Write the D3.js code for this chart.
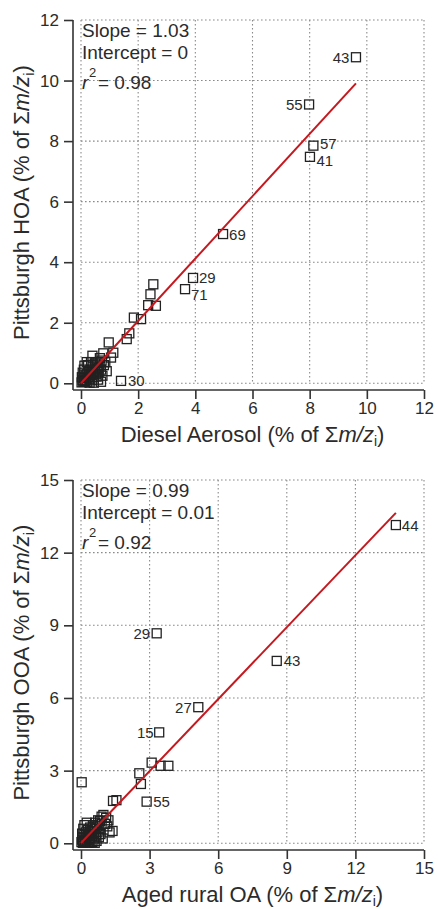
<!DOCTYPE html>
<html><head><meta charset="utf-8">
<script src="https://cdn.jsdelivr.net/npm/d3@7"></script>
<style>
body{margin:0;background:#fff}
svg{display:block}
text{font-family:"Liberation Sans",Arial,sans-serif;fill:#2b2b2b}
</style>
</head><body>
<svg id="c" width="438" height="909"></svg>
<script>
// ---------- Top panel data (Diesel vs HOA) ----------
const hoaTicks = [0, 2, 4, 6, 8, 10, 12];
const dieselX = [2.53,2.43,2.35,2.62,1.85,2.10,1.69,1.60,0.97,1.13,1.05,0.78,0.40,0.66,0.49,0.61,0.55,
  0.02,0.05,0.08,0.10,0.12,0.15,0.18,0.20,0.22,0.25,0.28,0.30,0.33,0.35,0.38,0.40,0.42,0.45,0.48,0.50,
  0.52,0.55,0.58,0.60,0.62,0.65,0.70,0.72,0.75,0.80,0.85,0.90,0.03,0.06,0.10,0.15,0.25,0.35,0.45,0.70,0.30,0.12,0.20];
const hoaY = [3.27,2.94,2.58,2.56,2.17,2.12,1.65,1.46,1.35,1.01,0.85,0.99,0.91,0.83,0.66,0.50,0.22,
  0.03,0.10,0.05,0.18,0.08,0.25,0.12,0.30,0.05,0.20,0.38,0.15,0.45,0.28,0.10,0.55,0.35,0.20,0.42,0.62,
  0.30,0.48,0.70,0.12,0.38,0.58,0.45,0.75,0.25,0.60,0.70,0.40,0.20,0.35,0.45,0.05,0.60,0.70,0.02,0.05,0.02,0.58,0.70];
const hoaLabX = [9.62, 7.98, 8.13, 8.01, 4.97, 3.92, 3.64, 1.40];
const hoaLabY = [10.77, 9.21, 7.85, 7.48, 4.93, 3.48, 3.11, 0.08];
const hoaLabText = ["43", "55", "57", "41", "69", "29", "71", "30"];
const hoaFit = {slope: 1.03, intercept: 0, xmax: 9.62};
const hoaStats = ["Slope = 1.03", "Intercept = 0", "0.98"];

// ---------- Bottom panel data (Aged rural OA vs OOA) ----------
const ooaTicks = [0, 3, 6, 9, 12, 15];
const ruralX = [3.09,3.48,3.82,2.55,2.62,0.03,1.40,1.55,1.38,0.98,0.83,1.05,0.54,1.10,1.20,1.15,0.90,1.25,
  0.02,0.05,0.08,0.10,0.12,0.15,0.18,0.20,0.22,0.25,0.28,0.30,0.33,0.35,0.38,0.40,0.42,0.45,0.48,0.50,
  0.52,0.55,0.58,0.60,0.62,0.65,0.68,0.70,0.72,0.75,0.78,0.80,0.85,0.90,0.95,0.05,0.10,0.15,0.25,0.35,0.60];
const ooaY = [3.33,3.20,3.20,2.89,2.45,2.52,1.75,1.78,0.51,1.17,0.92,0.80,0.69,1.05,0.95,0.70,1.10,0.45,
  0.05,0.15,0.02,0.25,0.10,0.35,0.05,0.20,0.45,0.12,0.30,0.55,0.08,0.40,0.22,0.65,0.15,0.50,0.30,0.05,
  0.75,0.40,0.20,0.60,0.85,0.32,0.10,0.70,0.48,0.95,0.25,0.60,0.38,0.80,0.20,0.40,0.60,0.75,0.85,0.02,0.02];
const ooaLabX = [13.77, 3.31, 8.56, 5.13, 3.42, 2.87];
const ooaLabY = [13.14, 8.67, 7.53, 5.62, 4.58, 1.72];
const ooaLabText = ["44", "29", "43", "27", "15", "55"];
const ooaFit = {slope: 0.99, intercept: 0.01, xmax: 13.77};
const ooaStats = ["Slope = 0.99", "Intercept = 0.01", "0.92"];

// label placement: [dx, dy, anchor]
const hoaLabPos = [[-6.5,5.5,"end"],[-6.5,5.5,"end"],[6.5,3,"start"],[6.5,9,"start"],[6,5.5,"start"],[6,5.5,"start"],[6,11,"start"],[7,5.5,"start"]];
const ooaLabPos = [[6,5.5,"start"],[-6.5,5.5,"end"],[7,5.5,"start"],[-6.5,5.5,"end"],[-5.5,5.5,"end"],[6.5,5.5,"start"]];

const svg = d3.select("#c");

function panel(o) {
  const x = d3.scaleLinear().domain([0, o.max]).range([81, 424]);
  const y = d3.scaleLinear().domain([0, o.max]).range([o.y0, o.y0 - 363.3]);
  const g = svg.append("g");
  const axY = o.y0 + 6.7, axX = 73;
  // grid
  g.append("g").selectAll("line.v").data(o.ticks).join("line")
    .attr("x1", d => x(d)).attr("x2", d => x(d)).attr("y1", y(o.max)).attr("y2", y(0))
    .attr("stroke", "#8a8a8a").attr("stroke-width", 1.1).attr("stroke-dasharray", "1.6,2.4");
  g.append("g").selectAll("line.h").data(o.ticks).join("line")
    .attr("y1", d => y(d)).attr("y2", d => y(d)).attr("x1", x(0)).attr("x2", x(o.max))
    .attr("stroke", "#8a8a8a").attr("stroke-width", 1.1).attr("stroke-dasharray", "1.6,2.4");
  // axes
  const xa = d3.axisBottom(x).tickValues(o.ticks).tickSize(9).tickPadding(3).tickFormat(d3.format("d"));
  const ya = d3.axisLeft(y).tickValues(o.ticks).tickSize(9).tickPadding(5).tickFormat(d3.format("d"));
  const gx = g.append("g").attr("transform", `translate(0,${axY})`).call(xa);
  const gy = g.append("g").attr("transform", `translate(${axX},0)`).call(ya);
  gx.select(".domain").attr("d", `M${axX},0H${x(o.max)}`);
  gy.select(".domain").attr("d", `M0,${y(o.max)}V${axY}`);
  [gx, gy].forEach(a => {
    a.selectAll(".domain,.tick line").attr("stroke", "#333").attr("stroke-width", 1.6);
    a.selectAll("text").attr("font-size", 17).attr("fill", "#2b2b2b").attr("font-family", "Liberation Sans, Arial, sans-serif");
  });
  // points
  const pts = d3.range(o.xs.length).map(i => [o.xs[i], o.ys[i]]);
  const lab = d3.range(o.lx.length).map(i => [o.lx[i], o.ly[i], o.lt[i], o.lp[i]]);
  g.append("g").selectAll("rect").data(pts.concat(lab)).join("rect")
    .attr("x", d => x(d[0]) - 4.5).attr("y", d => y(d[1]) - 4.5)
    .attr("width", 9).attr("height", 9)
    .attr("fill", "none").attr("stroke", "#222").attr("stroke-width", 1.3);
  // fit line
  const f = o.fit;
  g.append("line")
    .attr("x1", x(0)).attr("y1", y(f.intercept))
    .attr("x2", x(f.xmax)).attr("y2", y(f.intercept + f.slope * f.xmax))
    .attr("stroke", "#c4191f").attr("stroke-width", 2);
  // labels
  g.append("g").selectAll("text").data(lab).join("text")
    .attr("x", d => x(d[0]) + d[3][0]).attr("y", d => y(d[1]) + d[3][1])
    .attr("text-anchor", d => d[3][2]).attr("font-size", 15).attr("fill", "#333")
    .text(d => d[2]);
  // stats
  const st = g.append("g").attr("font-size", 19);
  st.append("text").attr("x", 82).attr("y", y(o.max) + 17).text(o.stats[0]);
  st.append("text").attr("x", 82).attr("y", y(o.max) + 39).text(o.stats[1]);
  st.append("text").attr("x", 89).attr("y", y(o.max) + 57).attr("font-size", 13).text("2");
  st.append("text").attr("x", 82).attr("y", y(o.max) + 69).attr("font-style", "italic").text("r");
  st.append("text").attr("x", 98).attr("y", y(o.max) + 69).text("= " + o.stats[2]);
  // x title
  const xt = g.append("text").attr("x", (x(0) + x(o.max)) / 2).attr("y", o.y0 + 58.5)
    .attr("text-anchor", "middle").attr("font-size", 22);
  xt.append("tspan").text(o.xTitle + " (% of Σ");
  xt.append("tspan").attr("font-style", "italic").text("m/z");
  xt.append("tspan").attr("font-size", 14).attr("dy", 4).text("i");
  xt.append("tspan").attr("dy", -4).text(")");
  // y title
  const yt = g.append("text").attr("transform", `translate(29,${(y(0) + y(o.max)) / 2 + 1}) rotate(-90)`)
    .attr("text-anchor", "middle").attr("font-size", 22);
  yt.append("tspan").text(o.yTitle + " (% of Σ");
  yt.append("tspan").attr("font-style", "italic").text("m/z");
  yt.append("tspan").attr("font-size", 14).attr("dy", 5).text("i");
  yt.append("tspan").attr("dy", -5).text(")");
}

panel({max: 12, ticks: hoaTicks, y0: 383.3, xs: dieselX, ys: hoaY, lx: hoaLabX, ly: hoaLabY, lt: hoaLabText, lp: hoaLabPos,
  fit: hoaFit, stats: hoaStats, xTitle: "Diesel Aerosol", yTitle: "Pittsburgh HOA"});
panel({max: 15, ticks: ooaTicks, y0: 843.3, xs: ruralX, ys: ooaY, lx: ooaLabX, ly: ooaLabY, lt: ooaLabText, lp: ooaLabPos,
  fit: ooaFit, stats: ooaStats, xTitle: "Aged rural OA", yTitle: "Pittsburgh OOA"});
</script>
</body></html>
